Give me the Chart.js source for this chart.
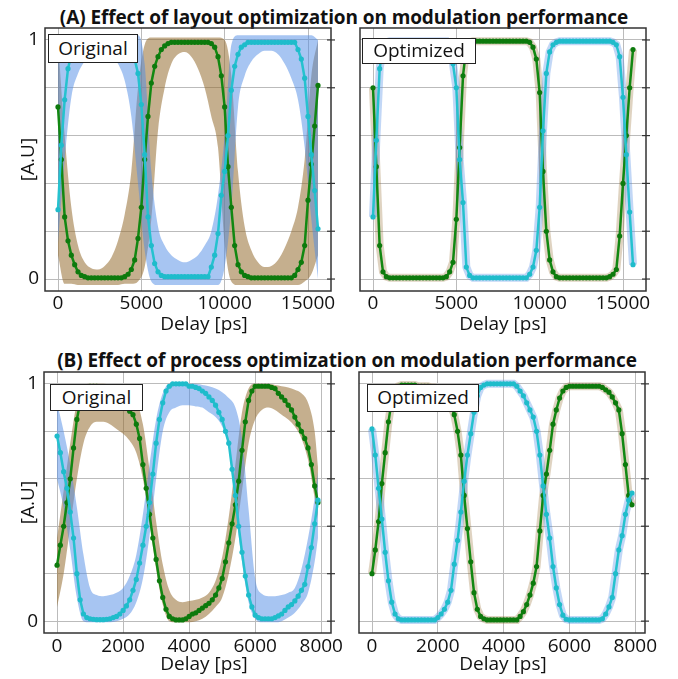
<!DOCTYPE html>
<html>
<head>
<meta charset="utf-8">
<script src="https://cdn.jsdelivr.net/npm/chart.js@4.4.0/dist/chart.umd.min.js"></script>
<style>
  body { margin: 0; background: #fff; }
  #page { position: relative; width: 678px; height: 679px; overflow: hidden; font-family: "Open Sans", sans-serif; color: #111; }
  canvas { position: absolute; }
  .heading { position: absolute; transform: translateX(-50%); white-space: nowrap; font-weight: bold; font-size: 19px; line-height: 26px; letter-spacing: -0.1px; }
  .xlab { position: absolute; transform: translateX(-50%); white-space: nowrap; font-size: 19px; line-height: 26px; }
  .tag { position: absolute; box-sizing: border-box; background: #fff; border: 1px solid #222; font-size: 19px; text-align: center; }
</style>
</head>
<body>
<div id="page">
  <div class="heading" style="left:344px; top:4px;">(A) Effect of layout optimization on modulation performance</div>
  <div class="heading" style="left:347px; top:347px;">(B) Effect of process optimization on modulation performance</div>
  <canvas id="cvA1" width="350" height="315" style="left:0; top:20px;"></canvas>
  <canvas id="cvA2" width="338" height="315" style="left:340px; top:20px;"></canvas>
  <canvas id="cvB1" width="350" height="329" style="left:0; top:350px;"></canvas>
  <canvas id="cvB2" width="338" height="329" style="left:340px; top:350px;"></canvas>
  <div class="xlab" style="left:204px; top:310px;">Delay [ps]</div>
  <div class="xlab" style="left:503px; top:310px;">Delay [ps]</div>
  <div class="xlab" style="left:204px; top:650px;">Delay [ps]</div>
  <div class="xlab" style="left:503px; top:650px;">Delay [ps]</div>
  <div class="tag" style="left:48px; top:34px; width:90px; height:29px; line-height:26px;">Original</div>
  <div class="tag" style="left:362px; top:38px; width:114px; height:26px; line-height:23px;">Optimized</div>
  <div class="tag" style="left:50px; top:384px; width:93px; height:27px; line-height:24px;">Original</div>
  <div class="tag" style="left:367px; top:384px; width:112px; height:28px; line-height:25px;">Optimized</div>
</div>
<script>
// sample delays [ps]
const delayA = [0, 200, 400, 600, 800, 1000, 1200, 1400, 1600, 1800, 2000, 2200, 2400, 2600, 2800, 3000,
  3200, 3400, 3600, 3800, 4000, 4200, 4400, 4600, 4800, 5000, 5200, 5400, 5600, 5800, 6000, 6200, 6400,
  6600, 6800, 7000, 7200, 7400, 7600, 7800, 8000, 8200, 8400, 8600, 8800, 9000, 9200, 9400, 9600, 9800,
  10000, 10200, 10400, 10600, 10800, 11000, 11200, 11400, 11600, 11800, 12000, 12200, 12400, 12600,
  12800, 13000, 13200, 13400, 13600, 13800, 14000, 14200, 14400, 14600, 14800, 15000, 15200, 15400, 15600];
const delayB = [0, 100, 200, 300, 400, 500, 600, 700, 800, 900, 1000, 1100, 1200, 1300, 1400, 1500, 1600,
  1700, 1800, 1900, 2000, 2100, 2200, 2300, 2400, 2500, 2600, 2700, 2800, 2900, 3000, 3100, 3200, 3300,
  3400, 3500, 3600, 3700, 3800, 3900, 4000, 4100, 4200, 4300, 4400, 4500, 4600, 4700, 4800, 4900, 5000,
  5100, 5200, 5300, 5400, 5500, 5600, 5700, 5800, 5900, 6000, 6100, 6200, 6300, 6400, 6500, 6600, 6700,
  6800, 6900, 7000, 7100, 7200, 7300, 7400, 7500, 7600, 7700, 7800, 7900];
const bandDelayA = [0, 400, 800, 1200, 1600, 2000, 2400, 2800, 3200, 3600, 4000, 4400, 4800, 5200, 5600,
  6000, 6400, 6800, 7200, 7600, 8000, 8400, 8800, 9200, 9600, 10000, 10400, 10800, 11200, 11600, 12000,
  12400, 12800, 13200, 13600, 14000, 14400, 14800, 15200, 15600];
const bandDelayB = [0, 200, 400, 600, 800, 1000, 1200, 1400, 1600, 1800, 2000, 2200, 2400, 2600, 2800,
  3000, 3200, 3400, 3600, 3800, 4000, 4200, 4400, 4600, 4800, 5000, 5200, 5400, 5600, 5800, 6000, 6200,
  6400, 6600, 6800, 7000, 7200, 7400, 7600, 7800, 7900];

// tick positions
const xTicksA = [0, 5000, 10000, 15000];
const xTicksB = [0, 2000, 4000, 6000, 8000];
const yTicks = [0, 0.2, 0.4, 0.6, 0.8, 1];

// (A) layout, original
const greenA1 = [0.72, 0.50, 0.26, 0.16, 0.10, 0.06, 0.03, 0.015, 0.01,
  0.005, 0.005, 0.005, 0.005, 0.005, 0.005, 0.005, 0.005, 0.005, 0.005, 0.005,
  0.01, 0.02, 0.04, 0.08, 0.17, 0.30, 0.50, 0.68, 0.82, 0.89, 0.93, 0.96, 0.975, 0.985,
  0.99, 0.99, 0.99, 0.99, 0.99, 0.99, 0.99, 0.99, 0.99, 0.99, 0.99, 0.99,
  0.985, 0.97, 0.93, 0.85, 0.72, 0.47, 0.30, 0.14, 0.06, 0.03, 0.015, 0.01,
  0.005, 0.005, 0.005, 0.005, 0.005, 0.005, 0.005, 0.005, 0.005, 0.005, 0.005, 0.005, 0.005,
  0.015, 0.04, 0.07, 0.14, 0.33, 0.48, 0.64, 0.81];
const cyanA1 = [0.29, 0.56, 0.75, 0.88, 0.94, 0.97, 0.98,
  0.99, 0.99, 0.99, 0.99, 0.99, 0.99, 0.99, 0.99, 0.99, 0.99, 0.99, 0.99, 0.99, 0.99,
  0.98, 0.96, 0.92, 0.86, 0.73, 0.52, 0.26, 0.14, 0.065, 0.03, 0.015,
  0.01, 0.01, 0.01, 0.01, 0.01, 0.01, 0.01, 0.01, 0.01, 0.01, 0.01, 0.01, 0.01, 0.01,
  0.05, 0.10, 0.19, 0.35, 0.45, 0.60, 0.79, 0.89, 0.94, 0.97, 0.98,
  0.99, 0.99, 0.99, 0.99, 0.99, 0.99, 0.99, 0.99, 0.99, 0.99, 0.99, 0.99, 0.99, 0.99, 0.99,
  0.96, 0.92, 0.84, 0.68, 0.52, 0.37, 0.21];
const greenA1Hi = [1.0, 0.6, 0.3, 0.14, 0.07, 0.045, 0.04, 0.055, 0.09, 0.16, 0.27, 0.45, 0.8, 0.98, 1.01,
  1.01, 1.01, 1.01, 1.01, 1.01, 1.01, 1.01, 1.01, 1.01, 1.01,
  1.0, 0.85, 0.45, 0.22, 0.12, 0.07, 0.05, 0.055, 0.08, 0.13, 0.2, 0.3, 0.5, 0.85, 1.0];
const greenA1Lo = [0.1, -0.02, -0.02, -0.025, -0.025, -0.025, -0.025, -0.025, -0.025, -0.025, -0.02, -0.02,
  -0.01, 0.05, 0.25, 0.62, 0.8, 0.9, 0.94, 0.95, 0.93, 0.88, 0.8, 0.68, 0.55, 0.15, -0.01,
  -0.025, -0.025, -0.025, -0.025, -0.025, -0.025, -0.025, -0.025, -0.025, -0.025,
  -0.01, 0.02, 0.1];
const cyanA1Hi = [1.0, 1.02, 1.02, 1.02, 1.02, 1.02, 1.02, 1.02, 1.02, 1.02, 1.02, 1.02, 1.02,
  0.9, 0.45, 0.22, 0.14, 0.1, 0.08, 0.07, 0.08, 0.1, 0.14, 0.2, 0.35, 0.6, 0.98,
  1.02, 1.02, 1.02, 1.02, 1.02, 1.02, 1.02, 1.02, 1.02, 1.02, 1.02, 1.02, 1.0];
const cyanA1Lo = [0.15, 0.5, 0.76, 0.86, 0.91, 0.94, 0.955, 0.955, 0.94, 0.9, 0.83, 0.68, 0.4, 0.12, -0.01,
  -0.025, -0.025, -0.025, -0.025, -0.025, -0.025, -0.025, -0.025, -0.025, -0.025,
  0.05, 0.3, 0.72, 0.85, 0.91, 0.94, 0.955, 0.955, 0.94, 0.9, 0.84, 0.75, 0.55, 0.25, 0.0];

// (A) layout, optimized
const greenA2 = [0.80, 0.47, 0.14, 0.03, 0.01,
  0.005, 0.005, 0.005, 0.005, 0.005, 0.005, 0.005, 0.005, 0.005, 0.005, 0.005, 0.005, 0.005, 0.005, 0.005, 0.005, 0.005,
  0.01, 0.03, 0.07, 0.25, 0.55, 0.85, 0.97, 0.99,
  0.995, 0.995, 0.995, 0.995, 0.995, 0.995, 0.995, 0.995, 0.995, 0.995, 0.995, 0.995, 0.995, 0.995, 0.995, 0.995, 0.995,
  0.99, 0.97, 0.92, 0.78, 0.45, 0.20, 0.08, 0.03, 0.01,
  0.005, 0.005, 0.005, 0.005, 0.005, 0.005, 0.005, 0.005, 0.005, 0.005, 0.005, 0.005, 0.005, 0.005, 0.005,
  0.01, 0.02, 0.04, 0.18, 0.40, 0.60, 0.80, 0.96];
const cyanA2 = [0.26, 0.58, 0.88, 0.97, 0.99,
  0.995, 0.995, 0.995, 0.995, 0.995, 0.995, 0.995, 0.995, 0.995, 0.995, 0.995, 0.995, 0.995, 0.995, 0.995, 0.995, 0.995, 0.995,
  0.97, 0.90, 0.80, 0.50, 0.32, 0.05, 0.015,
  0.005, 0.005, 0.005, 0.005, 0.005, 0.005, 0.005, 0.005, 0.005, 0.005, 0.005, 0.005, 0.005, 0.005, 0.005, 0.005, 0.005,
  0.02, 0.05, 0.12, 0.30, 0.62, 0.86, 0.95, 0.98, 0.99,
  0.995, 0.995, 0.995, 0.995, 0.995, 0.995, 0.995, 0.995, 0.995, 0.995, 0.995, 0.995, 0.995, 0.995, 0.995, 0.995,
  0.99, 0.98, 0.93, 0.76, 0.52, 0.28, 0.06];

// (B) process, original
const greenB1 = [0.236, 0.32, 0.40, 0.50, 0.60, 0.73, 0.85, 0.92, 0.96, 0.98,
  0.99, 0.99, 0.99, 0.985, 0.98, 0.975, 0.965, 0.955, 0.945, 0.93,
  0.92, 0.905, 0.885, 0.87, 0.83, 0.77, 0.66, 0.56, 0.45, 0.35,
  0.26, 0.17, 0.10, 0.05, 0.02, 0.01, 0.005, 0.005, 0.005, 0.01,
  0.02, 0.03, 0.035, 0.045, 0.055, 0.065, 0.075, 0.09, 0.11, 0.14,
  0.18, 0.25, 0.33, 0.41, 0.49, 0.59, 0.72, 0.84, 0.93, 0.97,
  0.99, 0.99, 0.99, 0.99, 0.99, 0.985, 0.98, 0.96, 0.945, 0.93,
  0.91, 0.89, 0.86, 0.83, 0.80, 0.77, 0.73, 0.66, 0.57, 0.50];
const cyanB1 = [0.78, 0.71, 0.63, 0.56, 0.46, 0.35, 0.20, 0.09, 0.03, 0.015,
  0.01, 0.008, 0.006, 0.006, 0.006, 0.008, 0.01, 0.015, 0.02, 0.03,
  0.045, 0.064, 0.09, 0.13, 0.176, 0.245, 0.32, 0.40, 0.50, 0.62,
  0.75, 0.85, 0.92, 0.97, 0.99, 1.0, 1.0, 1.0, 1.0, 1.0,
  0.99, 0.99, 0.985, 0.98, 0.97, 0.96, 0.945, 0.93, 0.91, 0.88,
  0.85, 0.80, 0.75, 0.64, 0.53, 0.40, 0.29, 0.19, 0.11, 0.06,
  0.025, 0.015, 0.01, 0.01, 0.01, 0.01, 0.015, 0.022, 0.03, 0.045,
  0.06, 0.07, 0.085, 0.105, 0.13, 0.155, 0.23, 0.31, 0.41, 0.51];
const greenB1Hi = [0.35, 0.55, 0.75, 0.92, 0.99, 1.0, 1.0, 1.0, 0.995, 0.985, 0.975, 0.96, 0.93, 0.83,
  0.64, 0.42, 0.24, 0.13, 0.09, 0.08, 0.085, 0.09, 0.1, 0.12, 0.17, 0.27, 0.44, 0.66, 0.88, 0.98,
  1.0, 1.0, 1.0, 0.995, 0.99, 0.985, 0.975, 0.96, 0.92, 0.8, 0.65];
const greenB1Lo = [0.06, 0.2, 0.4, 0.6, 0.75, 0.82, 0.84, 0.84, 0.83, 0.81, 0.79, 0.76, 0.71, 0.6,
  0.42, 0.22, 0.07, 0.0, -0.005, -0.005, -0.005, 0.0, 0.01, 0.03, 0.06, 0.1, 0.2, 0.35, 0.55, 0.75,
  0.85, 0.89, 0.9, 0.89, 0.87, 0.85, 0.82, 0.77, 0.68, 0.52, 0.43];
const cyanB1Hi = [0.92, 0.8, 0.66, 0.48, 0.28, 0.14, 0.11, 0.105, 0.11, 0.12, 0.14, 0.19, 0.28, 0.45,
  0.66, 0.85, 0.96, 1.0, 1.0, 1.0, 1.0, 1.0, 0.995, 0.99, 0.98, 0.965, 0.94, 0.9, 0.77, 0.47,
  0.18, 0.115, 0.105, 0.105, 0.11, 0.12, 0.14, 0.22, 0.35, 0.52, 0.63];
const cyanB1Lo = [0.6, 0.48, 0.3, 0.1, 0.0, -0.005, -0.005, -0.005, -0.005, 0.0, 0.01, 0.03, 0.08, 0.18,
  0.36, 0.6, 0.8, 0.88, 0.9, 0.91, 0.91, 0.905, 0.9, 0.88, 0.86, 0.82, 0.73, 0.48, 0.25, 0.08,
  0.01, -0.005, -0.005, -0.005, 0.0, 0.015, 0.035, 0.07, 0.12, 0.25, 0.35];

// (B) process, optimized
const greenB2 = [0.20, 0.30, 0.42, 0.58, 0.71, 0.84, 0.93, 0.97, 0.99,
  0.995, 0.995, 0.995, 0.995, 0.995, 0.99, 0.99, 0.99, 0.99, 0.985, 0.985, 0.98, 0.97,
  0.96, 0.95, 0.91, 0.87, 0.80, 0.70, 0.53, 0.39, 0.25, 0.12, 0.05, 0.02, 0.01,
  0.005, 0.005, 0.005, 0.005, 0.005, 0.005, 0.005, 0.005, 0.005, 0.005,
  0.02, 0.04, 0.07, 0.11, 0.16, 0.23, 0.38, 0.53, 0.62, 0.72, 0.83, 0.89, 0.94, 0.97, 0.985,
  0.99, 0.99, 0.99, 0.99, 0.99, 0.99, 0.99, 0.99, 0.99, 0.99,
  0.985, 0.975, 0.965, 0.945, 0.92, 0.89, 0.79, 0.66, 0.53, 0.49];
const cyanB2 = [0.81, 0.70, 0.56, 0.43, 0.29, 0.17, 0.08, 0.03, 0.01,
  0.005, 0.005, 0.005, 0.005, 0.005, 0.005, 0.005, 0.005, 0.005, 0.005, 0.005,
  0.015, 0.03, 0.05, 0.08, 0.13, 0.24, 0.34, 0.46, 0.59, 0.70, 0.79, 0.88, 0.95, 0.985, 0.995,
  1.0, 1.0, 1.0, 1.0, 1.0, 1.0, 1.0, 1.0, 1.0, 0.99,
  0.97, 0.95, 0.92, 0.89, 0.86, 0.80, 0.70, 0.57, 0.45, 0.35, 0.23, 0.14, 0.07, 0.025, 0.008,
  0.005, 0.005, 0.005, 0.005, 0.005, 0.005, 0.005, 0.005, 0.005, 0.005,
  0.01, 0.03, 0.06, 0.10, 0.20, 0.30, 0.36, 0.45, 0.51, 0.54];

const FONT = {family: '"Open Sans", sans-serif', size: 19};
const GREEN = '#128812', GREEN_PT = '#0d7a0d';
const CYAN = '#25c2cf', CYAN_PT = '#1fbccb';
const BROWN_FILL = 'rgba(150,110,50,0.55)';
const BLUE_FILL = 'rgba(80,140,230,0.5)';

const pts = (xs, ys) => xs.map((x, i) => ({x: x, y: ys[i]}));

// box round the plot area plus the little marks on its right edge
const framePlugin = {
  id: 'frame',
  afterDraw(chart) {
    const {ctx, chartArea: a, scales} = chart;
    ctx.save();
    ctx.strokeStyle = '#333';
    ctx.lineWidth = 1.5;
    ctx.strokeRect(a.left, a.top, a.right - a.left, a.bottom - a.top);
    ctx.lineWidth = 1.2;
    scales.y.ticks.forEach(t => {
      const py = scales.y.getPixelForValue(t.value);
      ctx.beginPath();
      ctx.moveTo(a.right - 4, py);
      ctx.lineTo(a.right + 4, py);
      ctx.stroke();
    });
    ctx.restore();
  }
};

function lineSet(xs, ys, color, ptColor, order) {
  return {
    data: pts(xs, ys), order: order,
    borderColor: color, borderWidth: 2.5, tension: 0,
    pointRadius: 2.6, pointBackgroundColor: ptColor, pointBorderWidth: 0
  };
}

function bandSets(xs, hi, lo, color, order) {
  const common = {borderWidth: 0, pointRadius: 0, cubicInterpolationMode: 'monotone', order: order};
  return [
    Object.assign({data: pts(xs, hi), fill: '+1', backgroundColor: color}, common),
    Object.assign({data: pts(xs, lo), fill: false}, common)
  ];
}

function haloSet(xs, ys, color, order) {
  return {data: pts(xs, ys), order: order, borderColor: color, borderWidth: 8, pointRadius: 0, tension: 0};
}

function makePanel(id, p) {
  let datasets = [
    lineSet(p.delay, p.cyan, CYAN, CYAN_PT, 0),
    lineSet(p.delay, p.green, GREEN, GREEN_PT, 1)
  ];
  if (p.bands) {
    datasets = datasets.concat(bandSets(p.bandDelay, p.bands.gHi, p.bands.gLo, BROWN_FILL, 3));
    datasets = datasets.concat(bandSets(p.bandDelay, p.bands.cHi, p.bands.cLo, BLUE_FILL, 2));
  } else {
    datasets.push(haloSet(p.delay, p.green, 'rgba(150,110,50,0.3)', 3));
    datasets.push(haloSet(p.delay, p.cyan, 'rgba(80,140,230,0.35)', 2));
  }

  return new Chart(document.getElementById(id), {
    type: 'line',
    data: {datasets: datasets},
    options: {
      responsive: false,
      animation: false,
      devicePixelRatio: 1,
      layout: {padding: {top: p.padTop, right: p.padRight, left: 0, bottom: 0}},
      plugins: {legend: {display: false}, tooltip: {enabled: false}},
      scales: {
        x: {
          type: 'linear', min: p.xMin, max: p.xMax,
          afterBuildTicks: s => { s.ticks = p.xTicks.map(v => ({value: v})); },
          ticks: {autoSkip: false, maxRotation: 0, padding: p.xTickPad, font: FONT, color: '#111',
            callback: v => String(v)},
          grid: {color: '#bbbbbb', lineWidth: 1, drawTicks: false},
          border: {display: false},
          afterFit: s => { s.height = p.xHeight; s.paddingLeft = 0; s.paddingRight = 0; }
        },
        y: {
          min: -0.05, max: 1.05,
          afterBuildTicks: s => { s.ticks = yTicks.map(v => ({value: v})); },
          ticks: {padding: 6, font: FONT, color: '#111', display: p.yLabels,
            callback: v => (v === 0 ? '0' : (v === 1 ? '1' : ''))},
          grid: {color: '#bbbbbb', lineWidth: 1, drawTicks: false},
          border: {display: false},
          title: {display: p.yLabels, text: '[A.U]', font: FONT, color: '#111', padding: {top: 17, bottom: 0}},
          afterFit: s => { s.width = p.yWidth; s.paddingTop = 0; s.paddingBottom = 0; }
        }
      }
    },
    plugins: [framePlugin]
  });
}

makePanel('cvA1', {
  delay: delayA, green: greenA1, cyan: cyanA1, bandDelay: bandDelayA,
  bands: {gHi: greenA1Hi, gLo: greenA1Lo, cHi: cyanA1Hi, cLo: cyanA1Lo},
  xMin: -780, xMax: 16380, xTicks: xTicksA, padTop: 8, padRight: 19, xHeight: 44, xTickPad: 1,
  yWidth: 45, yLabels: true
});
makePanel('cvA2', {
  delay: delayA, green: greenA2, cyan: cyanA2,
  xMin: -780, xMax: 16380, xTicks: xTicksA, padTop: 8, padRight: 32, xHeight: 44, xTickPad: 1,
  yWidth: 20, yLabels: false
});
makePanel('cvB1', {
  delay: delayB, green: greenB1, cyan: cyanB1, bandDelay: bandDelayB,
  bands: {gHi: greenB1Hi, gLo: greenB1Lo, cHi: cyanB1Hi, cLo: cyanB1Lo},
  xMin: -395, xMax: 8295, xTicks: xTicksB, padTop: 22, padRight: 19, xHeight: 46, xTickPad: 2,
  yWidth: 44, yLabels: true
});
makePanel('cvB2', {
  delay: delayB, green: greenB2, cyan: cyanB2,
  xMin: -395, xMax: 8295, xTicks: xTicksB, padTop: 22, padRight: 33, xHeight: 46, xTickPad: 2,
  yWidth: 19, yLabels: false
});
</script>
</body>
</html>
